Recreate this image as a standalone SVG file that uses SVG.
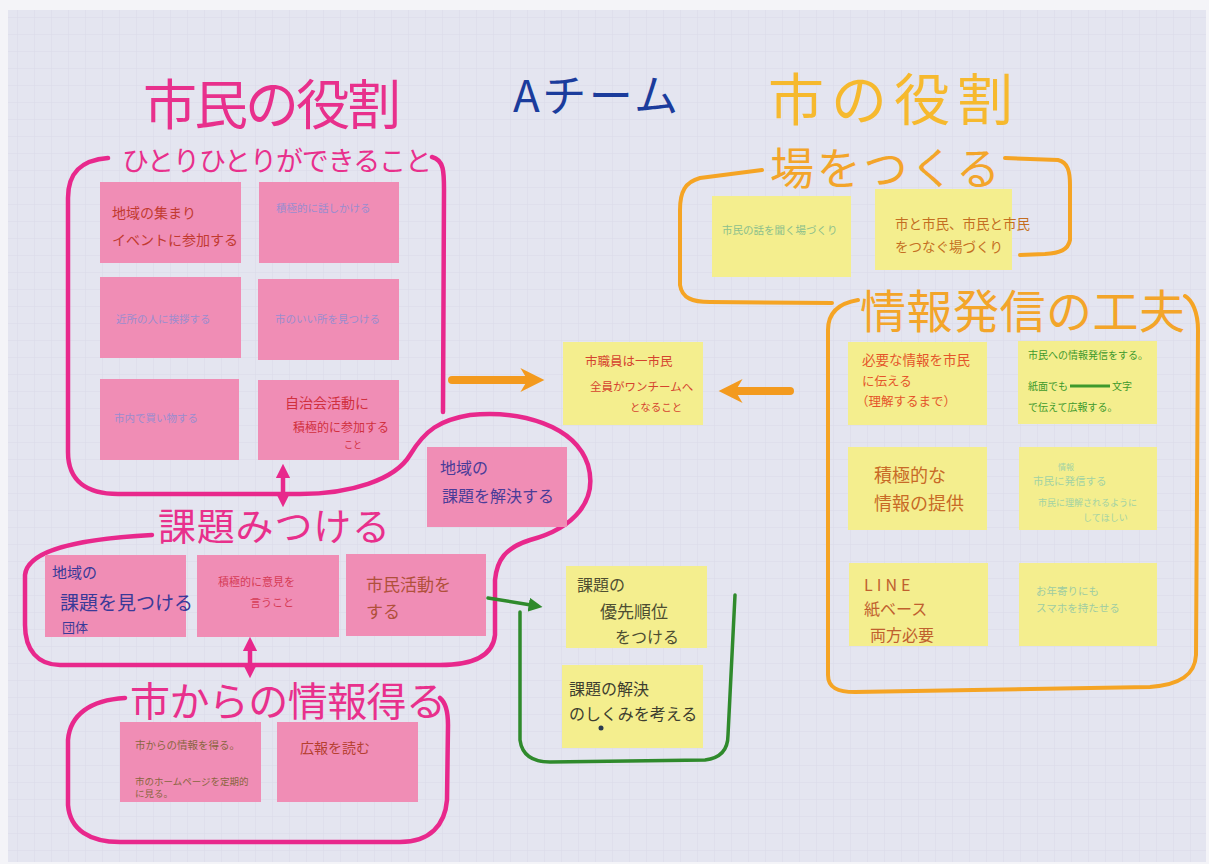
<svg xmlns="http://www.w3.org/2000/svg" width="1209" height="864" viewBox="0 0 1209 864">
<style>
.jp{font-family:"Noto Sans CJK JP","Noto Sans CJK SC",sans-serif}
.pink{fill:#f08db5}
.yel{fill:#f4ee8e}
.mag{fill:none;stroke:#e8288c;stroke-width:4.5;stroke-linecap:round;stroke-linejoin:round}
.org{fill:none;stroke:#f5a424;stroke-width:4;stroke-linecap:round;stroke-linejoin:round}
.grn{fill:none;stroke:#2f8a2c;stroke-width:3.5;stroke-linecap:round;stroke-linejoin:round}
.h-mag{fill:#e8308c}
.h-org{fill:#f3a52a}
</style>
<defs>
<pattern id="grid" width="17" height="17" patternUnits="userSpaceOnUse">
<path d="M17,0 L0,0 0,17" fill="none" stroke="#d7d8e6" stroke-width="0.8"/>
</pattern>
<marker id="mh" viewBox="0 0 10 10" refX="5" refY="5" markerWidth="3.2" markerHeight="3.2" orient="auto-start-reverse">
<path d="M0,0 L10,5 L0,10 Z" fill="#e8288c"/>
</marker>
<marker id="oh" viewBox="0 0 10 10" refX="4" refY="5" markerWidth="3.2" markerHeight="3" orient="auto">
<path d="M0,0 L10,5 L0,10 L3,5 Z" fill="#f39a1e"/>
</marker>
<marker id="gh" viewBox="0 0 10 10" refX="6" refY="5" markerWidth="4" markerHeight="4" orient="auto">
<path d="M0,0 L10,5 L0,10 Z" fill="#2f8a2c"/>
</marker>
</defs>
<rect width="1209" height="864" fill="#f4f4f8"/>
<rect x="8" y="10" width="1198" height="852" fill="#e4e5f0"/>
<rect x="8" y="10" width="1198" height="852" fill="url(#grid)"/>

<g id="headings" class="jp">
<text x="143" y="125" font-size="54" class="h-mag" textLength="258">市民の役割</text>
<text x="513" y="112" font-size="44" fill="#1b3c9c" textLength="165">Aチーム</text>
<text x="768" y="120" font-size="56" fill="#f6b92e" textLength="245">市の役割</text>
</g>

<g id="connectors">
<path class="mag" d="M108,158 C 82,160 68,172 68,198 L 68,452 C 68,482 88,494 118,494 L 300,494 C 350,494 395,480 410,455 C 425,430 440,420 470,415 C 520,410 575,425 588,465 C 598,500 575,528 530,540 C 505,548 497,560 495,580 L 495,635 C 493,655 475,665 440,665 L 60,665 C 38,665 25,650 25,625 L 25,575 C 27,555 60,540 152,535"/>
<path class="mag" d="M432,157 C 444,160 444,172 444,190 L 443,412"/>
<path class="mag" d="M125,698 C 90,700 70,715 68,740 L 68,805 C 70,830 90,842 120,842 L 400,842 C 430,842 445,825 447,800 L 448,725 C 448,710 445,702 440,698"/>
<line class="mag" x1="283" y1="471" x2="283" y2="500" stroke-width="5" marker-start="url(#mh)" marker-end="url(#mh)"/>
<line class="mag" x1="250" y1="644" x2="250" y2="671" stroke-width="5" marker-start="url(#mh)" marker-end="url(#mh)"/>
<path class="org" d="M762,170 L 700,178 C 685,182 680,192 680,210 L 680,285 C 682,298 692,302 710,302 L 832,303"/>
<path class="org" d="M1005,158 L 1058,160 C 1068,162 1070,172 1070,185 L 1070,240 C 1068,250 1060,253 1045,254 L 1020,255"/>
<path class="org" d="M858,300 C 840,303 828,312 828,330 L 828,675 C 828,688 838,692 855,692 L 1150,687 C 1180,685 1195,675 1196,655 L 1198,330 C 1198,312 1192,300 1185,296"/>
<line x1="452" y1="380" x2="530" y2="380" stroke="#f39a1e" stroke-width="8" stroke-linecap="round" marker-end="url(#oh)"/>
<line x1="790" y1="391" x2="733" y2="391" stroke="#f39a1e" stroke-width="8" stroke-linecap="round" marker-end="url(#oh)"/>
<line class="grn" x1="488" y1="598" x2="537" y2="606" marker-end="url(#gh)"/>
<path class="grn" d="M520,612 L 520,740 C 522,755 532,762 550,762 L 705,760 C 722,758 728,748 728,735 L 735,595"/>
</g>

<g id="group-hitori" class="jp">
<text x="122" y="171" font-size="27" class="h-mag" textLength="310">ひとりひとりができること</text>
</g>
<g id="note-chiiki-atsumari" class="jp">
<rect class="pink" x="100" y="182" width="141" height="81"/>
<text x="112" y="218" font-size="14" fill="#c23a30">地域の集まり</text>
<text x="112" y="245" font-size="14" fill="#c23a30">イベントに参加する</text>
</g>
<g id="note-hanashikakeru" class="jp">
<rect class="pink" x="259" y="182" width="140" height="81"/>
<text x="276" y="212" font-size="10.5" fill="#9a8ccf">積極的に話しかける</text>
</g>
<g id="note-aisatsu" class="jp">
<rect class="pink" x="100" y="277" width="141" height="81"/>
<text x="116" y="323" font-size="10.5" fill="#9a8ccf">近所の人に挨拶する</text>
</g>
<g id="note-iitokoro" class="jp">
<rect class="pink" x="258" y="279" width="141" height="81"/>
<text x="275" y="323" font-size="10.5" fill="#9a8ccf">市のいい所を見つける</text>
</g>
<g id="note-kaimono" class="jp">
<rect class="pink" x="100" y="379" width="139" height="81"/>
<text x="114" y="422" font-size="10.5" fill="#9a8ccf">市内で買い物する</text>
</g>
<g id="note-jichikai" class="jp">
<rect class="pink" x="258" y="380" width="141" height="80"/>
<text x="285" y="408" font-size="14" fill="#d0303e">自治会活動に</text>
<text x="293" y="432" font-size="12" fill="#d0303e">積極的に参加する</text>
<text x="344" y="448" font-size="9" fill="#d0303e">こと</text>
</g>
<g id="note-kaiketsu" class="jp">
<rect class="pink" x="427" y="447" width="140" height="80"/>
<text x="440" y="474" font-size="16" fill="#4a3c98">地域の</text>
<text x="442" y="502" font-size="16" fill="#4a3c98">課題を解決する</text>
</g>

<g id="group-kadai" class="jp">
<text x="158" y="540" font-size="38" class="h-mag" textLength="232">課題みつける</text>
</g>
<g id="note-mitsukeru" class="jp">
<rect class="pink" x="45" y="555" width="141" height="82"/>
<text x="52" y="578" font-size="15" fill="#3a3a98">地域の</text>
<text x="60" y="610" font-size="19" fill="#3a3a98">課題を見つける</text>
<text x="62" y="632" font-size="13" fill="#3a3a98">団体</text>
</g>
<g id="note-iken" class="jp">
<rect class="pink" x="197" y="555" width="142" height="82"/>
<text x="218" y="586" font-size="11" fill="#d63c55">積極的に意見を</text>
<text x="250" y="607" font-size="11" fill="#d63c55">言うこと</text>
</g>
<g id="note-shimin-katsudo" class="jp">
<rect class="pink" x="346" y="554" width="140" height="82"/>
<text x="366" y="591" font-size="17" fill="#b0503a">市民活動を</text>
<text x="366" y="618" font-size="17" fill="#b0503a">する</text>
</g>

<g id="group-joho" class="jp">
<text x="130" y="716" font-size="40" class="h-mag" textLength="316">市からの情報得る</text>
</g>
<g id="note-homepage" class="jp">
<rect class="pink" x="120" y="722" width="141" height="80"/>
<text x="135" y="749" font-size="10.5" fill="#8a6540">市からの情報を得る。</text>
<text x="135" y="785" font-size="9.5" fill="#8a6540">市のホームページを定期的</text>
<text x="135" y="797" font-size="9.5" fill="#8a6540">に見る。</text>
</g>
<g id="note-koho" class="jp">
<rect class="pink" x="277" y="722" width="141" height="80"/>
<text x="300" y="753" font-size="14" fill="#b54030">広報を読む</text>
</g>

<g id="group-ba" class="jp">
<text x="770" y="185" font-size="44" class="h-org" textLength="230">場をつくる</text>
</g>
<g id="note-hanashi-ba" class="jp">
<rect class="yel" x="712" y="196" width="139" height="81"/>
<text x="722" y="234" font-size="10.5" fill="#8cc08c">市民の話を聞く場づくり</text>
</g>
<g id="note-tsunagu" class="jp">
<rect class="yel" x="875" y="189" width="137" height="81"/>
<text x="895" y="229" font-size="13.5" fill="#c46e22">市と市民、市民と市民</text>
<text x="895" y="252" font-size="13.5" fill="#c46e22">をつなぐ場づくり</text>
</g>

<g id="note-one-team" class="jp">
<rect class="yel" x="563" y="342" width="140" height="83"/>
<text x="585" y="366" font-size="12.5" fill="#d4432e">市職員は一市民</text>
<text x="590" y="391" font-size="11.5" fill="#d4432e">全員がワンチームへ</text>
<text x="630" y="411" font-size="10.5" fill="#d4432e">となること</text>
</g>

<g id="group-hasshin" class="jp">
<text x="860" y="328" font-size="46" class="h-org" textLength="325">情報発信の工夫</text>
</g>
<g id="note-hitsuyo" class="jp">
<rect class="yel" x="848" y="342" width="139" height="83"/>
<text x="862" y="365" font-size="13.5" fill="#e4552a">必要な情報を市民</text>
<text x="862" y="386" font-size="12.5" fill="#e4552a">に伝える</text>
<text x="856" y="406" font-size="12.5" fill="#e4552a">（理解するまで）</text>
</g>
<g id="note-shimin-hasshin" class="jp">
<rect class="yel" x="1018" y="341" width="139" height="83"/>
<text x="1028" y="359" font-size="10" fill="#3e9a2c">市民への情報発信をする。</text>
<text x="1028" y="390" font-size="10" fill="#3e9a2c">紙面でも<tspan dx="44">文字</tspan></text>
<line x1="1070" y1="386" x2="1110" y2="386" stroke="#3e9a2c" stroke-width="3"/>
<text x="1028" y="411" font-size="10" fill="#3e9a2c">で伝えて広報する。</text>
</g>
<g id="note-sekkyoku" class="jp">
<rect class="yel" x="848" y="447" width="139" height="83"/>
<text x="874" y="482" font-size="18" fill="#c86a26">積極的な</text>
<text x="874" y="510" font-size="18" fill="#c86a26">情報の提供</text>
</g>
<g id="note-rikai" class="jp">
<rect class="yel" x="1019" y="447" width="138" height="83"/>
<text x="1058" y="470" font-size="8" fill="#a2d2a4">情報</text>
<text x="1033" y="485" font-size="10.5" fill="#a2d2a4">市民に発信する</text>
<text x="1038" y="506" font-size="9" fill="#a2d2a4">市民に理解されるように</text>
<text x="1083" y="521" font-size="9" fill="#a2d2a4">してほしい</text>
</g>
<g id="note-line" class="jp">
<rect class="yel" x="849" y="563" width="139" height="83"/>
<text x="864" y="591" font-size="16" fill="#c0602e" letter-spacing="4">LINE</text>
<text x="864" y="615" font-size="16" fill="#c0602e">紙ベース</text>
<text x="870" y="641" font-size="16" fill="#c0602e">両方必要</text>
</g>
<g id="note-sumaho" class="jp">
<rect class="yel" x="1019" y="563" width="138" height="83"/>
<text x="1036" y="595" font-size="10.5" fill="#9ecca2">お年寄りにも</text>
<text x="1036" y="612" font-size="10.5" fill="#9ecca2">スマホを持たせる</text>
</g>

<g id="note-yusen" class="jp">
<rect class="yel" x="566" y="566" width="141" height="82"/>
<text x="577" y="591" font-size="16" fill="#4e4e32">課題の</text>
<text x="600" y="618" font-size="17" fill="#4e4e32">優先順位</text>
<text x="615" y="643" font-size="16" fill="#4e4e32">をつける</text>
</g>
<g id="note-shikumi" class="jp">
<rect class="yel" x="562" y="665" width="141" height="83"/>
<text x="569" y="695" font-size="16" fill="#3e3e30">課題の解決</text>
<text x="569" y="720" font-size="16" fill="#3e3e30">のしくみを考える</text>
<circle cx="601" cy="728" r="2.5" fill="#2a3a50"/>
</g>
</svg>
